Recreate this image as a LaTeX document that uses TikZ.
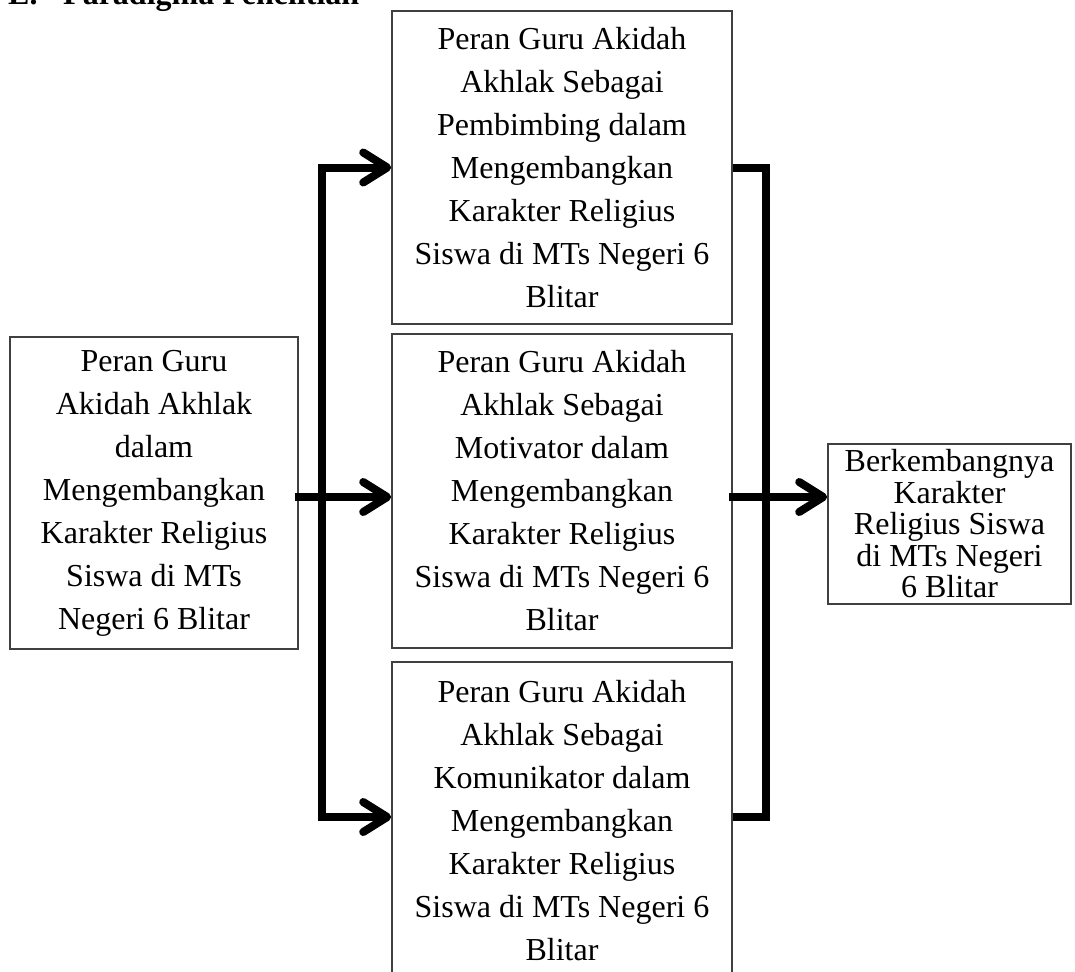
\documentclass[tikz,border=0pt]{standalone}
\usepackage{fontspec}
\setmainfont{Liberation Serif}
\usetikzlibrary{arrows.meta}
\begin{document}
\begin{tikzpicture}[x=1pt,y=-1pt,
 box/.style={draw=black!75, line width=1.6pt, rectangle, align=center, inner sep=0pt, font=\fontsize{32}{43}\selectfont},
 conn/.style={line width=8pt, line join=miter},
 arr/.style={conn, line cap=rect, -{Straight Barb[round, length=24pt, width=30pt]}},
 ttl/.style={anchor=base west, inner sep=0pt, font=\fontsize{32}{40}\selectfont\bfseries}]
\useasboundingbox (0,0) rectangle (1075,971);
\clip (0,0) rectangle (1075,971);
\node[ttl] (tE) at (8,5) {E.};
\node[ttl] (tP) at (63,5) {Paradigma Penelitian};
\node[box, minimum width=340pt, minimum height=313pt] (top) at (562,167.5) {Peran Guru Akidah\\Akhlak Sebagai\\Pembimbing dalam\\Mengembangkan\\Karakter Religius\\Siswa di MTs Negeri 6\\Blitar};
\node[box, minimum width=340pt, minimum height=314pt] (mid) at (562,491) {Peran Guru Akidah\\Akhlak Sebagai\\Motivator dalam\\Mengembangkan\\Karakter Religius\\Siswa di MTs Negeri 6\\Blitar};
\node[box, minimum width=340pt, minimum height=318pt] (bot) at (562,821) {Peran Guru Akidah\\Akhlak Sebagai\\Komunikator dalam\\Mengembangkan\\Karakter Religius\\Siswa di MTs Negeri 6\\Blitar};
\node[box, minimum width=288pt, minimum height=312pt] (left) at (154,493) {Peran Guru\\Akidah Akhlak\\dalam\\Mengembangkan\\Karakter Religius\\Siswa di MTs\\Negeri 6 Blitar};
\node[box, minimum width=243pt, minimum height=160pt, font=\fontsize{32}{31.5}\selectfont] (right) at (949.5,524) {Berkembangnya\\Karakter\\Religius Siswa\\di MTs Negeri\\6 Blitar};
\coordinate (lb) at (322,817);
\coordinate (rb) at (766,167.5);
\coordinate (ym) at (0,497);
\draw[arr, line cap=butt] (lb) |- (top.west);
\draw[arr] (lb) -- (bot.west |- lb);
\draw[arr] (left.east |- ym) -- (mid.west |- ym);
\draw[conn] (top.east) -- (rb) |- (bot.east |- lb);
\draw[arr] (mid.east |- ym) -- (right.west |- ym);
\end{tikzpicture}
\end{document}
